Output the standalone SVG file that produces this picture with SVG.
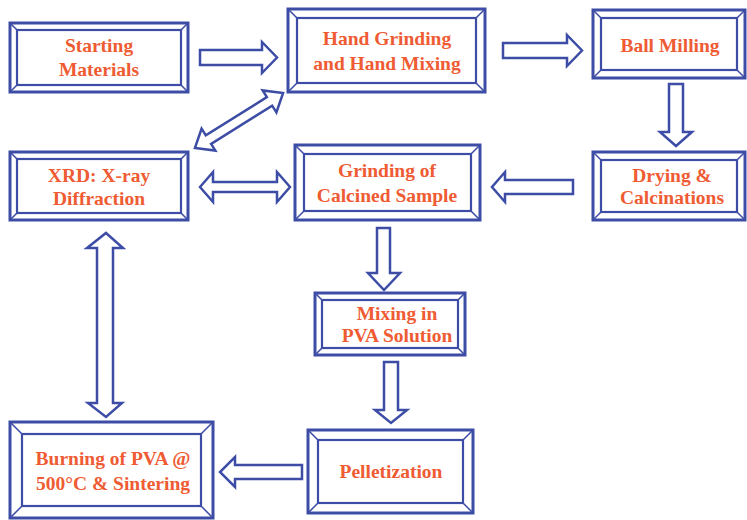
<svg xmlns="http://www.w3.org/2000/svg" width="747" height="520" viewBox="0 0 747 520">
<style>
.o{fill:#fff;stroke:#3D4DA6;stroke-width:3}
.i{fill:none;stroke:#3D4DA6;stroke-width:2.2}
.d{fill:none;stroke:#3D4DA6;stroke-width:1.5}
.a{fill:#fff;stroke:#3D4DA6;stroke-width:2.5;stroke-linejoin:miter}
text{font-family:"Liberation Serif","Times New Roman",serif;font-weight:bold;font-size:19.5px;fill:#EF5B33;text-anchor:middle}
</style>
<rect width="747" height="520" fill="#fff"/>
<g id="connectors">
<polygon class="a" points="200,50 262,50 262,42 277,57.5 262,73 262,65 200,65"/>
<polygon class="a" points="503,43 567,43 567,35 582,50.5 567,66 567,58 503,58"/>
<polygon class="a" points="669,84 683,84 683,132 692,132 676,146 660,132 669,132"/>
<polygon class="a" points="573,180 505,180 505,172 492,187 505,202 505,194 573,194"/>
<polygon class="a" points="200,187 213,172 213,182 277,182 277,172 290,187 277,202 277,192 213,192 213,202"/>
<polygon class="a" transform="translate(239,120.5) rotate(-32)" points="-52,0 -36,-13 -36,-5 36,-5 36,-13 52,0 36,13 36,5 -36,5 -36,13"/>
<polygon class="a" points="377,228 390,228 390,273 400,273 384,290 368,273 377,273"/>
<polygon class="a" points="384,362 398,362 398,410 407,410 391,423 375,410 384,410"/>
<polygon class="a" points="302,465 235,465 235,457 220,472 235,487 235,479 302,479"/>
<polygon class="a" points="106,233 123,248 113,248 113,403 122,403 106,417 88,403 97,403 97,248 87,248"/>
</g>
<g id="n1">
<rect class="o" x="10" y="23" width="178" height="69"/>
<rect class="i" x="17" y="30" width="164" height="55"/>
<path class="d" d="M10,23L17,30M188,23L181,30M10,92L17,85M188,92L181,85"/>
<text x="99" y="52">Starting</text>
<text x="99" y="76">Materials</text>
</g>
<g id="n2">
<rect class="o" x="288" y="9" width="197" height="83"/>
<rect class="i" x="297" y="18" width="179" height="65"/>
<path class="d" d="M288,9L297,18M485,9L476,18M288,92L297,83M485,92L476,83"/>
<text x="387" y="45">Hand Grinding</text>
<text x="387" y="70">and Hand Mixing</text>
</g>
<g id="n3">
<rect class="o" x="593" y="10" width="152" height="68"/>
<rect class="i" x="601" y="18" width="136" height="52"/>
<path class="d" d="M593,10L601,18M745,10L737,18M593,78L601,70M745,78L737,70"/>
<text x="670" y="52">Ball Milling</text>
</g>
<g id="n4">
<rect class="o" x="593" y="152" width="152" height="68"/>
<rect class="i" x="601" y="160" width="136" height="52"/>
<path class="d" d="M593,152L601,160M745,152L737,160M593,220L601,212M745,220L737,212"/>
<text x="672" y="182">Drying &amp;</text>
<text x="672" y="204">Calcinations</text>
</g>
<g id="n5">
<rect class="o" x="295" y="145" width="185" height="75"/>
<rect class="i" x="304" y="154" width="167" height="57"/>
<path class="d" d="M295,145L304,154M480,145L471,154M295,220L304,211M480,220L471,211"/>
<text x="387" y="177">Grinding of</text>
<text x="387" y="202">Calcined Sample</text>
</g>
<g id="n6">
<rect class="o" x="10" y="152" width="178" height="68"/>
<rect class="i" x="17" y="159" width="164" height="54"/>
<path class="d" d="M10,152L17,159M188,152L181,159M10,220L17,213M188,220L181,213"/>
<text x="99" y="182">XRD: X-ray</text>
<text x="99" y="205">Diffraction</text>
</g>
<g id="n7">
<rect class="o" x="315" y="293" width="150" height="62"/>
<rect class="i" x="322" y="300" width="136" height="48"/>
<path class="d" d="M315,293L322,300M465,293L458,300M315,355L322,348M465,355L458,348"/>
<text x="397" y="320">Mixing in</text>
<text x="397" y="342">PVA Solution</text>
</g>
<g id="n8">
<rect class="o" x="308" y="430" width="165" height="83"/>
<rect class="i" x="318" y="440" width="145" height="63"/>
<path class="d" d="M308,430L318,440M473,430L463,440M308,513L318,503M473,513L463,503"/>
<text x="391" y="478">Pelletization</text>
</g>
<g id="n9">
<rect class="o" x="10" y="422" width="203" height="96"/>
<rect class="i" x="22" y="434" width="179" height="72"/>
<path class="d" d="M10,422L22,434M213,422L201,434M10,518L22,506M213,518L201,506"/>
<text x="113" y="465">Burning of PVA @</text>
<text x="113" y="490">500°C &amp; Sintering</text>
</g>
</svg>
